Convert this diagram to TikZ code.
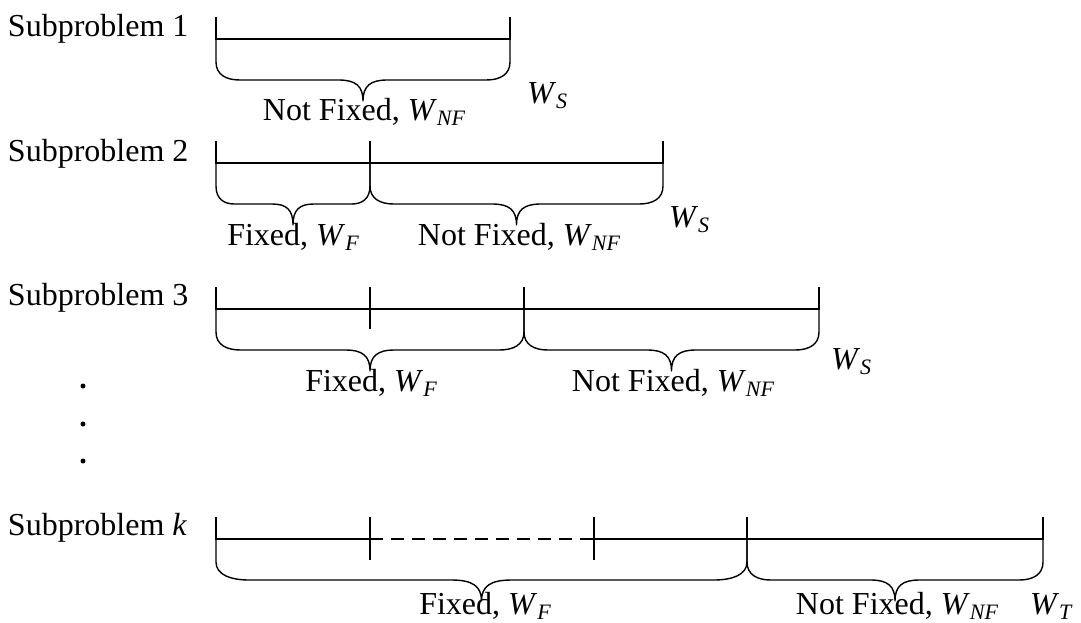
\documentclass[tikz,border=0pt]{standalone}
\usepackage{fontspec}
\setmainfont{Liberation Serif}
\begin{document}
% italic variable with a lowered italic subscript
\newcommand{\wvar}[1]{\textit{W}\raisebox{-5pt}{\fontsize{22}{22}\selectfont\itshape #1}}
% curly brace below a segment: x-left, x-right, y of the segment line
\newcommand{\wbrace}[3]{%
  \pgfmathsetmacro{\bw}{#2-#1}%
  \pgfmathsetmacro{\bm}{(#1+#2)/2}%
  \pgfmathsetmacro{\cw}{12+0.04*\bw}%
  \pgfmathsetmacro{\tw}{17+0.025*\bw}%
  \pgfmathsetmacro{\yh}{#3+41}%
  \pgfmathsetmacro{\yc}{\yh-18}%
  \pgfmathsetmacro{\yt}{#3+62}%
  \draw[bracestyle] (#1,#3) -- (#1,\yc)
    .. controls (#1,\yh-5) and (#1+\cw*0.45,\yh) .. (#1+\cw,\yh)
    -- (\bm-\tw,\yh)
    .. controls (\bm-\tw*0.3,\yh) and (\bm,\yh+6) .. (\bm,\yt)
    .. controls (\bm,\yh+6) and (\bm+\tw*0.3,\yh) .. (\bm+\tw,\yh)
    -- (#2-\cw,\yh)
    .. controls (#2-\cw*0.45,\yh) and (#2,\yh-5) .. (#2,\yc) -- (#2,#3);%
}
\begin{tikzpicture}[x=1pt,y=-1pt,
  every node/.style={inner sep=0pt,outer sep=0pt,font=\fontsize{32}{38}\selectfont},
  seg/.style={line width=1.4pt},
  bracestyle/.style={line width=1.4pt,line join=round},
  lbl/.style={anchor=base west},
  clbl/.style={anchor=base}]
\useasboundingbox (0,0) rectangle (1081,623);

% ---- Subproblem 1
\node[lbl] (s1) at (8,37) {Subproblem 1};
\draw[seg] (216,17) -- (216,39) -- (510,39) -- (510,17);
\wbrace{216}{510}{39}
\node[clbl] (s1nf) at (364,121) {Not Fixed, \wvar{NF}};
\node[lbl] (s1w) at (527,104) {\wvar{S}};

% ---- Subproblem 2
\node[lbl] (s2) at (8,161) {Subproblem 2};
\draw[seg] (216,141) -- (216,163) -- (663,163) -- (663,141);
\draw[seg] (370,141) -- (370,163);
\wbrace{216}{370}{163}
\wbrace{370}{663}{163}
\node[clbl] (s2f) at (293,245) {Fixed, \wvar{F}};
\node[clbl] (s2nf) at (519,245) {Not Fixed, \wvar{NF}};
\node[lbl] (s2w) at (669,227) {\wvar{S}};

% ---- Subproblem 3
\node[lbl] (s3) at (8,305) {Subproblem 3};
\draw[seg] (216,287) -- (216,309) -- (819,309) -- (819,287);
\draw[seg] (370,287) -- (370,329);
\draw[seg] (524,287) -- (524,309);
\wbrace{216}{524}{309}
\wbrace{524}{819}{309}
\node[clbl] (s3f) at (371,391) {Fixed, \wvar{F}};
\node[clbl] (s3nf) at (673,391) {Not Fixed, \wvar{NF}};
\node[lbl] (s3w) at (831,369) {\wvar{S}};

% ---- vertical ellipsis
\foreach \yy/\nm in {386/d1,424/d2,461/d3}
  \fill (83,\yy) coordinate (\nm) circle (2.5);

% ---- Subproblem k
\node[lbl] (sk) at (8,535) {Subproblem \textit{k}};
\draw[seg] (216,517) -- (216,539) -- (370,539);
\draw[seg,dash pattern=on 13pt off 8pt] (370,539) -- (594,539);
\draw[seg] (594,539) -- (1043,539) -- (1043,517);
\draw[seg] (370,517) -- (370,560);
\draw[seg] (594,517) -- (594,560);
\draw[seg] (747,517) -- (747,539);
\wbrace{216}{747}{539}
\wbrace{747}{1043}{539}
\node[clbl] (skf) at (485,614) {Fixed, \wvar{F}};
\node[clbl] (sknf) at (897,614) {Not Fixed, \wvar{NF}};
\node[lbl] (skw) at (1030,614) {\wvar{T}};
\end{tikzpicture}
\end{document}
